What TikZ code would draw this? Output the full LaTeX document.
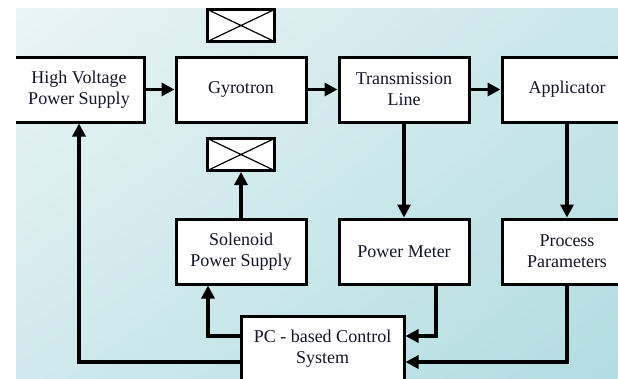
\documentclass[tikz,border=0pt]{standalone}
\usepackage{fontspec}
\setmainfont{Liberation Serif}
\usetikzlibrary{arrows.meta,shadows,shadings}
\definecolor{bgTL}{RGB}{234,245,246}
\definecolor{bgTR}{RGB}{202,230,233}
\definecolor{bgBL}{RGB}{208,233,236}
\definecolor{bgBR}{RGB}{178,221,225}
\definecolor{ink}{RGB}{20,20,40}
\begin{document}
\begin{tikzpicture}[x=1pt,y=-1pt,
  blk/.style={draw,line width=3pt,fill=white,minimum width=130pt,minimum height=65pt,
    inner sep=0pt,align=center,text=ink,font=\rmfamily\fontsize{18}{21}\selectfont,
    drop shadow={shadow xshift=1.3pt,shadow yshift=-1.3pt,fill=black,opacity=1}},
  coil/.style={draw,line width=3pt,fill=white,minimum width=67pt,minimum height=32pt,inner sep=0pt,
    drop shadow={shadow xshift=1pt,shadow yshift=-1pt,fill=black,opacity=1},
    path picture={\draw[line width=1.2pt] (path picture bounding box.north west)--(path picture bounding box.south east)
      (path picture bounding box.north east)--(path picture bounding box.south west);}},
  arr/.style={line width=3.2pt,-{Triangle[length=13pt,width=13pt]}}]
  \useasboundingbox (0,0) rectangle (618,378);
  \fill[white] (0,0) rectangle (618,378);
  \begin{scope}
  \clip (16,8) rectangle (618,378);
  \shade[upper left=bgTL,upper right=bgTR,lower left=bgBL,lower right=bgBR] (16,8) rectangle (618,378);
  % top row
  \node[blk] (hv) at (79,89.5) {High Voltage\\Power Supply};
  \node[blk] (gyro) at (241,89.5) {Gyrotron};
  \node[blk] (tline) at (404,89.5) {Transmission\\Line};
  \node[blk] (appl) at (567,89.5) {Applicator};
  % solenoid coils
  \node[coil] (coilA) at (241,25.5) {};
  \node[coil] (coilB) at (241,154.5) {};
  % second row
  \node[blk] (solps) at (241,251.5) {Solenoid\\Power Supply};
  \node[blk] (pmeter) at (404,251.5) {Power Meter};
  \node[blk] (params) at (567,251.5) {Process\\Parameters};
  \node[blk,minimum width=163pt] (pc) at (322.5,349) {PC - based Control\\System};
  % signal path
  \draw[arr] (hv) -- (gyro);
  \draw[arr] (gyro) -- (tline);
  \draw[arr] (tline) -- (appl);
  \draw[arr] (tline) -- (pmeter);
  \draw[arr] (appl) -- (params);
  \draw[arr] (solps) -- (coilB);
  % control loops
  \draw[arr] ([yshift=13pt]pc.west) -| ([xshift=-33pt]solps.south);
  \draw[arr] ([yshift=-13pt]pc.west) -| (hv.south);
  \draw[arr] ([xshift=32pt]pmeter.south) |- ([yshift=13pt]pc.east);
  \draw[arr] (params.south) |- ([yshift=-13pt]pc.east);
  \end{scope}
\end{tikzpicture}
\end{document}
